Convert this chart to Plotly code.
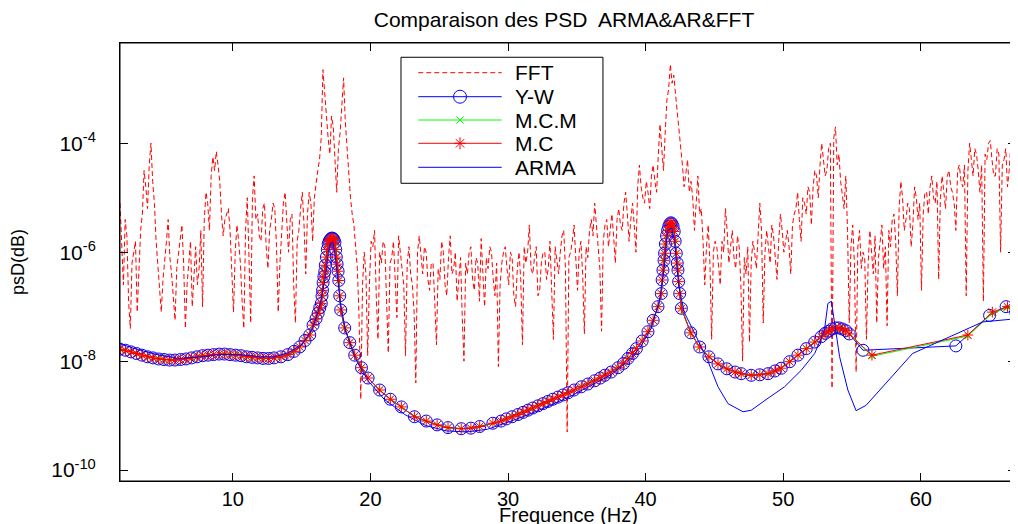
import numpy as np
import plotly.graph_objects as go

# ---------------- data ----------------
# FFT periodogram: log10(PSD) on the grid 1.8 + 0.25*k Hz ...
fft_f0 = 1.8
fft_df = 0.25
fft_log10 = [
    # 1.80 - 4.80
    -5.1, -6.6, -5.7, -7.4, -6.0, -7.1, -5.6, -4.5, -5.2, -4.0, -5.1, -6.3, -7.1,
    # 5.05 - 7.80
    -6.2, -5.4, -6.4, -7.25, -6.0, -5.5, -7.4, -6.1, -7.0, -5.9, -6.3, -7.0,
    # 8.05 - 9.30
    -4.9, -5.6, -4.25, -4.15, -4.7, -5.7,
    # 9.55 - 12.80
    -5.3, -5.6, -7.1, -5.5, -6.2, -7.4, -5.0, -7.3, -4.6, -5.3, -5.8, -5.1, -6.3, -5.4,
    # 13.05 - 15.30
    -5.2, -7.1, -5.5, -4.9, -6.0, -5.3, -7.3, -5.6, -4.9, -6.4,
    # 15.55 - 19.30
    -4.9, -5.8, -4.7, -4.3, -2.65, -3.4, -4.2, -3.7, -4.9, -3.8, -2.8, -4.1, -5.0, -5.5, -6.3, -8.7,
    # 19.55 - 23.30
    -6.0, -7.9, -5.8, -5.6, -7.6, -6.2, -5.9, -7.85, -6.1, -6.5, -5.7, -6.3, -7.9, -5.9, -6.6, -8.4,
    # 23.55 - 34.30
    -5.7, -6.4, -6.0, -6.7, -6.2, -7.7, -6.5, -6.0, -6.8, -5.7, -6.3, -6.9, -6.1, -8.0, -6.4,
    -5.9, -6.7, -6.2, -5.75, -7.0, -6.3, -6.0, -6.8, -8.1, -6.2, -5.9, -6.6, -6.1, -7.0, -6.0,
    -7.7, -6.2, -5.5, -6.4, -5.9, -6.7, -6.0, -6.5, -5.8, -7.6, -6.2, -6.0, -5.6, -9.3,
    # 34.55 - 45.30
    -6.0, -5.5, -6.7, -5.8, -7.5, -6.1, -5.4, -5.1, -6.0, -7.45, -5.5, -5.9, -5.3, -6.2, -5.2,
    -5.6, -4.9, -5.8, -5.1, -6.0, -4.4, -5.0, -4.7, -5.2, -4.4, -4.9, -3.65, -4.5, -3.2, -2.55,
    -2.75, -3.4, -4.0, -4.8, -4.3, -4.7, -5.6, -4.6, -5.2, -6.6, -5.5, -7.6, -5.8, -6.3,
    # 45.55 - 55.80
    -5.8, -5.2, -6.2, -5.6, -6.3, -5.9, -8.0, -6.4, -7.65, -5.8, -6.3, -5.1, -7.3, -5.6, -6.2,
    -5.7, -6.5, -5.3, -6.0, -5.6, -6.4, -5.3, -4.9, -5.8, -5.1, -4.8, -5.5, -4.5, -5.0, -4.0,
    -4.6, -4.1, -8.5, -3.7, -4.2, -5.0, -4.6, -7.3, -5.5, -8.2, -5.6, -6.0,
    # 56.05 - 67.05
    -7.6, -5.6, -6.4, -7.3, -5.8, -6.3, -7.35, -5.9, -5.3, -6.8, -4.7, -5.6, -5.1, -5.9, -4.8,
    -5.4, -6.7, -4.9, -5.3, -4.6, -5.1, -6.5, -4.6, -5.2, -4.5, -4.9, -5.6, -4.4, -4.8, -6.8,
    -4.0, -4.6, -4.2, -4.9, -6.9, -4.3, -3.95, -4.6, -4.1, -6.0, -4.3, -4.8, -4.0, -5.2, -6.1,
]
# ... and the in-between bins 1.925 + 0.25*k Hz
fft_mid_f0 = 1.925
fft_mid_log10 = [
    # 1.925 - 4.925
    -6.0, -5.4, -6.9, -6.2, -5.8, -6.4, -5.3, -4.8, -4.4, -4.7, -5.8, -6.8, -6.5,
    # 5.175 - 7.925
    -5.8, -6.1, -6.9, -6.3, -5.7, -6.2, -6.6, -5.8, -6.4, -6.6, -5.6, -5.4,
    # 8.175 - 9.425
    -5.1, -4.6, -4.5, -4.4, -5.3, -5.4,
    # 9.675 - 12.925
    -5.2, -6.3, -6.0, -5.8, -6.9, -5.6, -6.1, -5.0, -5.4, -5.7, -5.2, -5.9, -5.6, -5.1,
    # 13.175 - 15.425
    -5.9, -6.2, -5.1, -5.6, -5.4, -6.6, -5.8, -5.2, -5.5, -5.3,
    # 15.675 - 19.425
    -5.1, -5.0, -4.5, -3.9, -3.1, -3.9, -3.5, -4.3, -4.1, -3.3, -3.6, -4.6, -5.3, -5.9, -7.2, -6.6,
    # 19.675 - 23.425
    -6.4, -6.6, -5.9, -6.8, -6.0, -5.8, -6.9, -6.2, -5.8, -7.2, -6.0, -6.6, -6.2, -6.4, -7.1, -6.0,
    # 23.675 - 34.425
    -6.1, -5.9, -6.5, -6.2, -6.9, -6.3, -5.8, -6.6, -6.1, -6.4, -6.0, -6.5, -7.2, -6.2, -6.0,
    -6.5, -6.1, -6.9, -6.4, -6.1, -5.9, -6.5, -6.2, -6.6, -6.0, -6.3, -6.0, -6.8, -6.3, -6.5,
    -5.9, -6.0, -6.3, -6.1, -6.8, -6.2, -6.0, -6.3, -6.7, -5.9, -6.4, -5.7, -6.3, -6.1,
    # 34.675 - 45.425
    -5.8, -6.2, -6.0, -6.4, -5.9, -5.6, -5.7, -5.5, -6.3, -5.8, -5.4, -5.6, -5.7, -5.4, -5.5,
    -5.1, -5.3, -5.4, -5.5, -4.8, -4.8, -5.1, -4.9, -4.6, -4.7, -4.2, -4.1, -3.8, -3.0, -2.9,
    -3.1, -3.8, -4.4, -4.5, -4.9, -5.0, -5.1, -5.3, -5.8, -5.9, -6.2, -6.0, -5.9, -6.6,
    # 45.675 - 55.925
    -6.0, -5.6, -5.9, -6.1, -5.7, -6.6, -6.1, -5.9, -6.2, -6.0, -5.7, -5.6, -6.0, -5.9, -5.5,
    -6.1, -5.8, -5.6, -5.8, -5.9, -5.5, -5.2, -5.4, -5.0, -5.3, -4.9, -4.8, -4.6, -4.4, -4.3,
    -4.5, -4.0, -3.9, -4.4, -4.7, -5.2, -5.6, -5.9, -6.2, -5.9, -6.3, -6.1,
    # 56.175 - 66.925
    -6.2, -6.0, -5.7, -6.1, -5.5, -5.9, -5.6, -5.4, -5.8, -5.2, -5.0, -5.4, -5.2, -5.5, -5.0,
    -5.1, -5.3, -4.9, -4.8, -5.0, -4.7, -5.0, -4.9, -4.6, -4.8, -5.1, -4.5, -4.7, -4.4, -4.5,
    -4.3, -4.1, -4.5, -4.4, -4.2, -4.0, -4.3, -4.6, -4.2, -4.4, -4.1, -4.5, -4.2, -4.7,
]

# AR estimates (Y-W, M.C.M, M.C) coincide up to ~55 Hz: shared frequency points (Hz)
ar_freq = [
    1.8, 2.2, 2.6, 3.0, 3.4, 3.8, 4.2, 4.6, 5.0, 5.4,
    5.8, 6.2, 6.6, 7.0, 7.4, 7.8, 8.2, 8.6, 9.0, 9.4,
    9.8, 10.2, 10.6, 11.0, 11.4, 11.8, 12.2, 12.6, 13.0, 13.5,
    14.0, 14.45, 14.86, 15.25, 15.59, 15.83, 16.05, 16.2, 16.32, 16.43,
    16.48, 16.52, 16.56, 16.62, 16.68, 16.72, 16.8, 16.87, 16.93, 17.0,
    17.07, 17.14, 17.21, 17.28, 17.35, 17.42, 17.48, 17.52, 17.58, 17.65,
    17.7, 17.77, 17.84, 18.13, 18.5, 18.86, 19.35, 19.83, 20.67, 21.45,
    22.25, 23.2, 24.06, 24.85, 25.64, 26.6, 27.3, 27.94, 28.9, 29.5,
    29.88, 30.3, 30.73, 31.1, 31.45, 31.8, 32.18, 32.55, 32.9, 33.25,
    33.63, 34.0, 34.37, 34.8, 35.33, 35.8, 36.3, 36.7, 37.03, 37.5,
    38.0, 38.4, 38.72, 39.05, 39.33, 39.75, 40.17, 40.55, 40.9, 41.14,
    41.2, 41.26, 41.34, 41.38, 41.44, 41.52, 41.6, 41.68, 41.76, 41.84,
    41.92, 42.0, 42.08, 42.15, 42.23, 42.3, 42.35, 42.4, 42.48, 42.6,
    43.28, 43.93, 44.6, 45.26, 45.9, 46.5, 46.95, 47.68, 48.3, 48.9,
    49.4, 49.86, 50.47, 51.07, 51.68, 52.29, 52.77, 53.05, 53.3, 53.55,
    53.8, 54.05, 54.3, 54.55, 54.8,
]
ar_log10 = [
    -7.78, -7.80, -7.83, -7.86, -7.89, -7.92, -7.94, -7.96, -7.97, -7.98,
    -7.98, -7.97, -7.96, -7.94, -7.92, -7.90, -7.89, -7.88, -7.87, -7.87,
    -7.88, -7.89, -7.90, -7.92, -7.93, -7.94, -7.95, -7.95, -7.94, -7.92,
    -7.88, -7.82, -7.74, -7.62, -7.52, -7.34, -7.22, -7.12, -7.02, -6.94,
    -6.80, -6.70, -6.56, -6.45, -6.36, -6.24, -6.09, -5.95, -5.85, -5.80,
    -5.77, -5.75, -5.74, -5.75, -5.77, -5.82, -5.95, -6.09, -6.22, -6.35,
    -6.52, -6.80, -7.06, -7.39, -7.66, -7.89, -8.12, -8.31, -8.53, -8.70,
    -8.84, -9.02, -9.10, -9.17, -9.22, -9.24, -9.23, -9.20, -9.14, -9.10,
    -9.06, -9.02, -8.98, -8.94, -8.90, -8.86, -8.82, -8.78, -8.74, -8.70,
    -8.66, -8.62, -8.58, -8.53, -8.47, -8.42, -8.36, -8.31, -8.26, -8.20,
    -8.12, -8.04, -7.95, -7.86, -7.77, -7.63, -7.46, -7.25, -7.00, -6.76,
    -6.51, -6.33, -6.15, -6.02, -5.85, -5.70, -5.60, -5.53, -5.48, -5.46,
    -5.48, -5.53, -5.62, -5.80, -6.02, -6.20, -6.33, -6.54, -6.76, -7.03,
    -7.48, -7.74, -7.92, -8.05, -8.14, -8.20, -8.23, -8.26, -8.25, -8.23,
    -8.18, -8.13, -8.01, -7.89, -7.77, -7.65, -7.55, -7.49, -7.45, -7.41,
    -7.39, -7.39, -7.41, -7.44, -7.50,
]

# high-frequency ends where the estimates separate
yw_tail_freq = [55.8, 62.55, 65.0, 66.2, 66.9]
yw_tail_log10 = [-7.80, -7.72, -7.16, -7.00, -7.10]
mc_tail_freq = [56.45, 63.42, 65.2, 66.3, 67.0]
mc_tail_log10 = [-7.89, -7.52, -7.10, -7.00, -7.03]
mcm_tail_log10 = [-7.91, -7.54, -7.12, -7.02, -7.05]

# ARMA estimate
arma_freq = [
    1.8, 3.0, 4.5, 6.0, 7.5, 9.0, 10.5, 12.0, 13.0, 14.0,
    15.0, 15.8, 16.3, 16.7, 16.95, 17.1, 17.3, 17.5, 17.8, 18.2,
    18.9, 19.8, 21.0, 22.5, 24.0, 25.5, 27.0, 28.5, 30.0, 31.5,
    33.0, 34.5, 36.0, 37.5, 38.7, 39.6, 40.4, 41.0, 41.35, 41.6,
    41.9, 42.1, 42.4, 42.8, 43.57, 44.5, 45.26, 45.99, 47.08, 47.68,
    48.9, 50.1, 51.3, 52.29, 53.0, 53.25, 53.5, 53.74, 54.1, 54.7,
    55.3, 56.03, 59.4, 64.5, 67.0,
]
arma_log10 = [
    -7.68, -7.78, -7.88, -7.95, -7.93, -7.88, -7.88, -7.92, -7.92, -7.85,
    -7.70, -7.40, -7.00, -6.50, -6.00, -5.83, -5.83, -6.20, -6.90, -7.45,
    -7.95, -8.35, -8.70, -8.98, -9.18, -9.28, -9.30, -9.25, -9.12, -8.98,
    -8.82, -8.65, -8.45, -8.25, -8.00, -7.75, -7.40, -6.90, -6.30, -5.60,
    -5.55, -5.80, -6.60, -7.10, -7.49, -7.98, -8.47, -8.78, -8.93, -8.90,
    -8.68, -8.47, -8.17, -7.86, -7.43, -6.94, -6.90, -7.31, -7.92, -8.53,
    -8.91, -8.81, -7.86, -7.28, -7.22,
]

series_names = ["FFT", "Y-W", "M.C.M", "M.C", "ARMA"]
x_tick_vals = [10, 20, 30, 40, 50, 60]
y_tick_exps = [-10, -8, -6, -4]
x_range = [1.8, 66.92]
y_range_log = [-10.2, -2.16]

# ---------------- derived arrays ----------------
f_main = fft_f0 + fft_df * np.arange(len(fft_log10))
f_mid = fft_mid_f0 + fft_df * np.arange(len(fft_mid_log10))
f_all = np.concatenate([f_main, f_mid])
v_all = np.concatenate([np.array(fft_log10), np.array(fft_mid_log10)])
order = np.argsort(f_all)
fft_freq = f_all[order]
fft_psd = np.power(10.0, v_all[order])

yw_f = ar_freq + yw_tail_freq
yw_p = np.power(10.0, ar_log10 + yw_tail_log10)
mc_f = ar_freq + mc_tail_freq
mc_p = np.power(10.0, ar_log10 + mc_tail_log10)
mcm_p = np.power(10.0, ar_log10 + mcm_tail_log10)
arma_p = np.power(10.0, arma_log10)

RED, BLUE, GREEN = "#ff0000", "#0000ff", "#00ff00"
FONT = "Liberation Sans, Arial, Helvetica, sans-serif"
DASH = "5px,3px"

fig = go.Figure()
fig.add_trace(go.Scatter(x=fft_freq, y=fft_psd, mode="lines", name="FFT",
                         line=dict(color=RED, width=1, dash=DASH)))
fig.add_trace(go.Scatter(x=yw_f, y=yw_p, mode="lines+markers", name="Y-W",
                         line=dict(color=BLUE, width=1),
                         marker=dict(symbol="circle-open", size=12, color=BLUE,
                                     line=dict(width=1, color=BLUE))))
fig.add_trace(go.Scatter(x=mc_f, y=mcm_p, mode="lines+markers", name="M.C.M",
                         line=dict(color=GREEN, width=1),
                         marker=dict(symbol="x-thin-open", size=6, color=GREEN,
                                     line=dict(width=1, color=GREEN))))
fig.add_trace(go.Scatter(x=mc_f, y=mc_p, mode="lines+markers", name="M.C",
                         line=dict(color=RED, width=1),
                         marker=dict(symbol="asterisk-open", size=9, color=RED,
                                     line=dict(width=1, color=RED))))
fig.add_trace(go.Scatter(x=arma_freq, y=arma_p, mode="lines", name="ARMA",
                         line=dict(color=BLUE, width=1)))

# ---------------- MATLAB-style legend box (positions as fractions of the axes) ----------------
def fx(frac):
    return x_range[0] + frac * (x_range[1] - x_range[0])

def fy(frac):
    return 10.0 ** (y_range_log[0] + frac * (y_range_log[1] - y_range_log[0]))

leg_box = dict(x0=0.3136, x1=0.539, y0=0.6797, y1=0.9674)
leg_rows = [0.9322, 0.8774, 0.8242, 0.7710, 0.7162]
leg_x0, leg_xm, leg_x1, leg_xt = 0.3329, 0.3795, 0.4260, 0.4386
leg_styles = [
    dict(color=RED, dash=DASH, symbol=None, size=0),
    dict(color=BLUE, dash="solid", symbol="circle-open", size=13),
    dict(color=GREEN, dash="solid", symbol="x-thin-open", size=7),
    dict(color=RED, dash="solid", symbol="asterisk-open", size=10),
    dict(color=BLUE, dash="solid", symbol=None, size=0),
]
fig.add_shape(type="rect", xref="paper", yref="paper", layer="below",
              fillcolor="white", line=dict(color="black", width=1), **leg_box)
for name, yr, st in zip(series_names, leg_rows, leg_styles):
    fig.add_trace(go.Scatter(x=[fx(leg_x0), fx(leg_x1)], y=[fy(yr), fy(yr)], mode="lines",
                             showlegend=False, hoverinfo="skip",
                             line=dict(color=st["color"], width=1, dash=st["dash"])))
    if st["symbol"]:
        fig.add_trace(go.Scatter(x=[fx(leg_xm)], y=[fy(yr)], mode="markers",
                                 showlegend=False, hoverinfo="skip",
                                 marker=dict(symbol=st["symbol"], size=st["size"], color=st["color"],
                                             line=dict(width=1, color=st["color"]))))
    fig.add_annotation(x=leg_xt, y=yr, xref="paper", yref="paper", text=name,
                       showarrow=False, xanchor="left", yanchor="middle",
                       font=dict(family=FONT, size=21, color="black"))

# x-axis label placed just under the tick labels (as in the original)
fig.add_annotation(x=0.5, y=-34 / 438, xref="paper", yref="paper", text="Frequence (Hz)",
                   showarrow=False, xanchor="center", yanchor="middle",
                   font=dict(family=FONT, size=20, color="black"))

# axes frame (box on)
fig.add_shape(type="rect", xref="paper", yref="paper", x0=0, x1=1, y0=0, y1=1,
              layer="above", line=dict(color="black", width=1))

# the page shows the figure 8 px in from the top-left corner
fig.update_layout(
    width=1010, height=530,
    margin=dict(l=112, r=2, t=35, b=57, autoexpand=False),
    paper_bgcolor="white", plot_bgcolor="white",
    showlegend=False,
    font=dict(family=FONT, size=18, color="black"),
    title=dict(text="Comparaison des PSD  ARMA&AR&FFT", x=0.5505, xanchor="center",
               y=1 - 12 / 530, yanchor="middle", yref="container",
               font=dict(family=FONT, size=21, color="black")),
    xaxis=dict(range=x_range, tickvals=x_tick_vals, ticks="inside", ticklen=8,
               tickcolor="black", showline=True, linecolor="black", linewidth=1,
               mirror="ticks", showgrid=False, zeroline=False,
               tickfont=dict(size=20), ticklabelstandoff=0),
    yaxis=dict(type="log", range=y_range_log,
               tickvals=[10.0 ** e for e in y_tick_exps],
               ticktext=["10<sup>%d</sup>" % e for e in y_tick_exps],
               ticks="inside", ticklen=8, tickcolor="black",
               showline=True, linecolor="black", linewidth=1, mirror="ticks",
               showgrid=False, zeroline=False, tickfont=dict(size=21),
               ticklabelstandoff=19,
               title=dict(text="psD(dB)", font=dict(size=18), standoff=25)),
)

fig.write_html("out.html")
